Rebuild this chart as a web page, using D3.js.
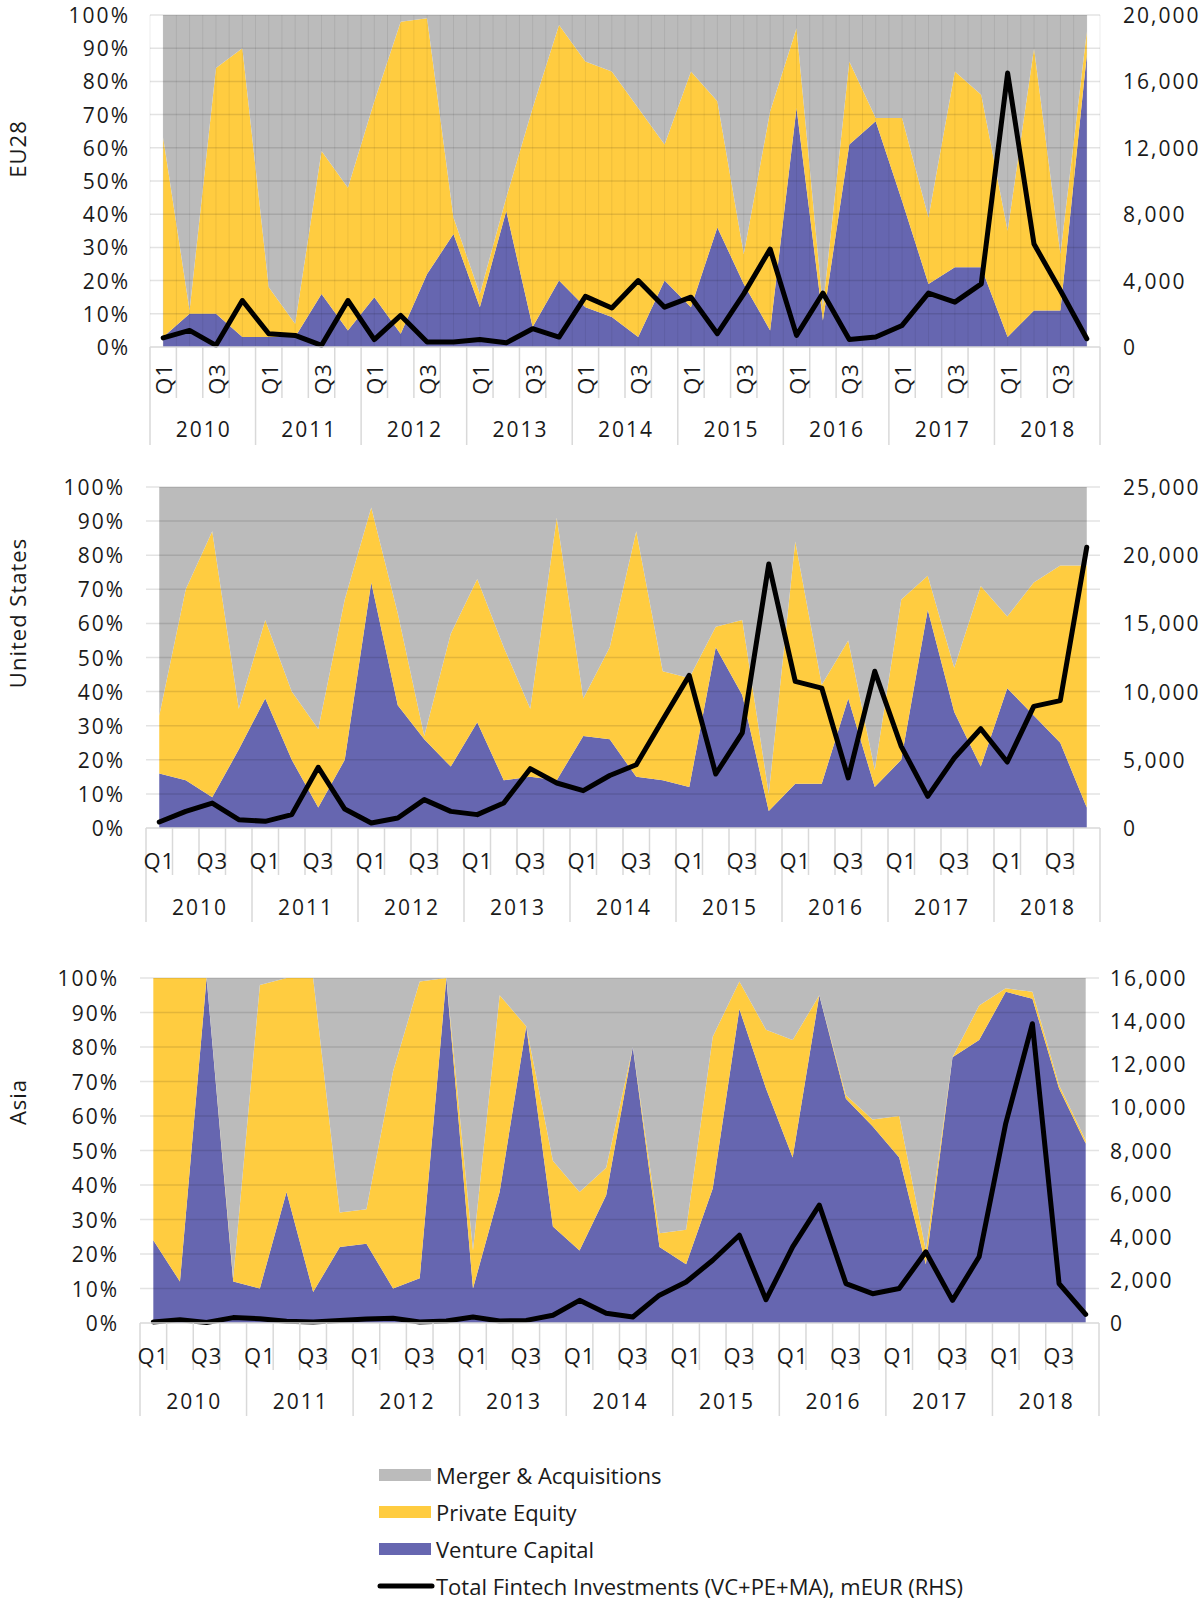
<!DOCTYPE html>
<html>
<head>
<meta charset="utf-8">
<script src="https://cdn.jsdelivr.net/npm/d3@7"></script>
<style>
  body { margin: 0; background: #fff; }
  text { font-family: "Open Sans", sans-serif; fill: #1a1a1a; }
</style>
</head>
<body>
<div id="chart"></div>
<script>
// categories: 9 years x 4 quarters
var years = ["2010", "2011", "2012", "2013", "2014", "2015", "2016", "2017", "2018"];
var quarterNames = ["Q1", "Q2", "Q3", "Q4"];
var pctTicks = [0, 10, 20, 30, 40, 50, 60, 70, 80, 90, 100];

// EU28 shares (%) and total (mEUR)
var eu28VC = [3, 10, 10, 3, 3, 3, 16, 5, 15, 4, 22, 34, 12, 41, 6, 20, 12, 9, 3, 20, 12, 36, 19, 5, 72, 8, 61, 68, 44, 19, 24, 24, 3, 11, 11, 88];
var eu28PE = [60, 1, 74, 87, 15, 4, 43, 43, 59, 94, 77, 5, 4, 4, 66, 77, 74, 74, 69, 41, 71, 38, 9, 66, 24, 4, 25, 1, 25, 20, 59, 52, 32, 79, 17, 7];
var eu28MA = [37, 89, 16, 10, 82, 93, 41, 52, 26, 2, 1, 61, 84, 55, 28, 3, 14, 17, 28, 39, 17, 26, 72, 29, 4, 88, 14, 31, 31, 61, 17, 24, 65, 10, 72, 5];
var eu28Total = [550, 1000, 100, 2800, 800, 700, 100, 2800, 450, 1900, 300, 300, 450, 250, 1100, 600, 3050, 2350, 4000, 2400, 3000, 800, 3200, 5900, 700, 3250, 450, 600, 1300, 3250, 2700, 3800, 16500, 6200, 3400, 500];
var eu28Ticks = [0, 4000, 8000, 12000, 16000, 20000];

// United States
var usVC = [16, 14, 9, 23, 38, 20, 6, 20, 72, 36, 26, 18, 31, 14, 15, 14, 27, 26, 15, 14, 12, 53, 39, 5, 13, 13, 38, 12, 20, 64, 34, 18, 41, 33, 25, 6];
var usPE = [17, 56, 78, 12, 23, 20, 23, 47, 22, 27, 1, 39, 42, 39, 20, 77, 11, 27, 72, 32, 32, 6, 22, 5, 71, 29, 17, 5, 47, 10, 13, 53, 21, 39, 52, 71];
var usMA = [67, 30, 13, 65, 39, 60, 71, 33, 6, 37, 73, 43, 27, 47, 65, 9, 62, 47, 13, 54, 56, 41, 39, 90, 16, 58, 45, 83, 33, 26, 53, 29, 38, 28, 23, 23];
var usTotal = [440, 1220, 1830, 610, 490, 980, 4450, 1390, 370, 730, 2080, 1220, 980, 1830, 4350, 3300, 2740, 3850, 4640, 7940, 11190, 3960, 6970, 19350, 10750, 10260, 3670, 11490, 5990, 2320, 5130, 7280, 4840, 8920, 9340, 20580];
var usTicks = [0, 5000, 10000, 15000, 20000, 25000];

// Asia
var asiaVC = [24, 12, 100, 12, 10, 38, 9, 22, 23, 10, 13, 100, 10, 38, 86, 28, 21, 37, 80, 22, 17, 39, 91, 68, 48, 95, 65, 57, 48, 17, 77, 82, 96, 94, 68, 52];
var asiaPE = [76, 88, 0, 1, 88, 62, 91, 10, 10, 63, 86, 0, 11, 57, 0, 19, 17, 8, 0, 4, 10, 44, 8, 17, 34, 0, 1, 2, 12, 4, 0, 10, 1, 2, 1, 1];
var asiaMA = [0, 0, 0, 87, 2, 0, 0, 68, 67, 27, 1, 0, 79, 5, 14, 53, 62, 55, 20, 74, 73, 17, 1, 15, 18, 5, 34, 41, 40, 79, 23, 8, 3, 4, 31, 47];
var asiaTotal = [50, 150, 20, 250, 200, 80, 50, 120, 190, 220, 50, 90, 280, 90, 120, 360, 1050, 450, 280, 1290, 1900, 2910, 4070, 1080, 3530, 5470, 1830, 1360, 1600, 3300, 1050, 3070, 9260, 13880, 1830, 400];
var asiaTicks = [0, 2000, 4000, 6000, 8000, 10000, 12000, 14000, 16000];

var seriesNames = ["Merger & Acquisitions", "Private Equity", "Venture Capital"];
var lineName = "Total Fintech Investments (VC+PE+MA), mEUR (RHS)";

var colors = { ma: "#bbbbbb", pe: "#ffcc40", vc: "#6666b0" };

// category list built from years and quarters
var categories = [];
years.forEach(function(yr){
    quarterNames.forEach(function(q){ categories.push({ year: yr, q: q }); });
});

var svg = d3.select("#chart").append("svg")
    .attr("width", 1201)
    .attr("height", 1601);

function drawPanel(p){
    var g = svg.append("g");
    var x = d3.scaleBand().domain(d3.range(categories.length)).range([p.left, p.right]);
    var cx = function(i){ return x(i) + x.bandwidth() / 2; };
    var y = d3.scaleLinear().domain([0, 100]).range([p.bottom, p.top]);
    var yR = d3.scaleLinear().domain([0, d3.max(p.ticks)]).range([p.bottom, p.top]);

    // stacked shares
    var rows = categories.map(function(c, i){
        return { i: i, vc: p.vc[i], pe: p.pe[i], ma: p.ma[i] };
    });
    var stacked = d3.stack().keys(["vc", "pe", "ma"])(rows);
    var area = d3.area()
        .x(function(d){ return cx(d.data.i); })
        .y0(function(d){ return y(d[0]); })
        .y1(function(d){ return y(d[1]); });
    g.selectAll("path.area")
        .data(stacked)
        .enter()
        .append("path")
        .attr("class", "area")
        .attr("d", area)
        .attr("fill", function(d){ return colors[d.key]; });

    // vertical gridlines only on the top panel
    if (p.vGrid){
        var vx = [];
        d3.range(categories.length).forEach(function(i){ vx.push(x(i)); vx.push(cx(i)); });
        vx.push(p.right);
        g.selectAll("line.vgrid")
            .data(vx)
            .enter()
            .append("line")
            .attr("x1", function(d){ return d; })
            .attr("x2", function(d){ return d; })
            .attr("y1", p.top)
            .attr("y2", p.bottom)
            .attr("stroke", "rgba(0,0,0,0.07)")
            .attr("stroke-width", 1);
    }

    // horizontal gridlines drawn over the areas
    g.selectAll("line.grid")
        .data(pctTicks.slice(1))
        .enter()
        .append("line")
        .attr("x1", p.left)
        .attr("x2", p.right)
        .attr("y1", function(d){ return y(d); })
        .attr("y2", function(d){ return y(d); })
        .attr("stroke", "rgba(0,0,0,0.11)")
        .attr("stroke-width", 1.5);

    // total line on right axis
    var line = d3.line()
        .x(function(d, i){ return cx(i); })
        .y(function(d){ return yR(d); });
    g.append("path")
        .datum(p.total)
        .attr("d", line)
        .attr("fill", "none")
        .attr("stroke", "#000")
        .attr("stroke-width", 5)
        .attr("stroke-linecap", "round")
        .attr("stroke-linejoin", "round");

    // bottom axis line and ticks
    g.append("line")
        .attr("x1", p.left).attr("x2", p.right)
        .attr("y1", p.bottom).attr("y2", p.bottom)
        .attr("stroke", "#d9d9d9").attr("stroke-width", 1.5);
    var bounds = d3.range(categories.length + 1);
    g.selectAll("line.tick")
        .data(bounds)
        .enter()
        .append("line")
        .attr("x1", function(i){ return i < categories.length ? x(i) : p.right; })
        .attr("x2", function(i){ return i < categories.length ? x(i) : p.right; })
        .attr("y1", p.bottom)
        .attr("y2", function(i){ return i % 4 == 0 ? p.bottom + p.yearDrop : p.bottom + p.qDrop; })
        .attr("stroke", "#d9d9d9")
        .attr("stroke-width", 1.5);

    // Q1 / Q3 labels
    var qIdx = d3.range(categories.length).filter(function(i){ return i % 2 == 0; });
    var qText = g.selectAll("text.q")
        .data(qIdx)
        .enter()
        .append("text")
        .attr("font-size", 22)
        .attr("letter-spacing", 1)
        .attr("text-anchor", "middle")
        .attr("dominant-baseline", "central")
        .text(function(i){ return categories[i].q; });
    if (p.rotateQ){
        qText.attr("transform", function(i){
            return "translate(" + cx(i) + "," + (p.bottom + 32) + ") rotate(-90)";
        });
    } else {
        qText.attr("x", function(i){ return cx(i); }).attr("y", p.bottom + 32);
    }

    // year labels
    g.selectAll("text.year")
        .data(years)
        .enter()
        .append("text")
        .attr("x", function(d, k){ return (x(k * 4) + x(k * 4 + 3) + x.bandwidth()) / 2 + 1; })
        .attr("y", p.bottom + p.yearY)
        .attr("font-size", 21)
        .attr("letter-spacing", 2)
        .attr("text-anchor", "middle")
        .attr("dominant-baseline", "central")
        .text(function(d){ return d; });

    // left percent axis
    g.selectAll("text.left")
        .data(pctTicks)
        .enter()
        .append("text")
        .attr("x", p.leftLabelX + 2)
        .attr("y", function(d){ return y(d); })
        .attr("font-size", 21)
        .attr("letter-spacing", 2)
        .attr("text-anchor", "end")
        .attr("dominant-baseline", "central")
        .text(function(d){ return d + "%"; });

    // right value axis
    g.selectAll("text.right")
        .data(p.ticks)
        .enter()
        .append("text")
        .attr("x", p.rightLabelX)
        .attr("y", function(d){ return yR(d); })
        .attr("font-size", 21)
        .attr("letter-spacing", 2)
        .attr("text-anchor", "start")
        .attr("dominant-baseline", "central")
        .text(function(d){ return d3.format(",")(d); });

    // region title
    g.append("text")
        .attr("transform", "translate(17," + p.titleY + ") rotate(-90)")
        .attr("font-size", 22)
        .attr("letter-spacing", 1)
        .attr("text-anchor", "middle")
        .attr("dominant-baseline", "central")
        .text(p.title);
}

drawPanel({ title: "EU28", titleY: 149, vc: eu28VC, pe: eu28PE, ma: eu28MA, total: eu28Total, ticks: eu28Ticks,
    left: 150, right: 1100, top: 15, bottom: 347, leftLabelX: 128, rightLabelX: 1123,
    rotateQ: true, vGrid: true, qDrop: 51, yearDrop: 98, yearY: 82 });
drawPanel({ title: "United States", titleY: 613, vc: usVC, pe: usPE, ma: usMA, total: usTotal, ticks: usTicks,
    left: 146, right: 1100, top: 487, bottom: 828, leftLabelX: 123, rightLabelX: 1123,
    rotateQ: false, vGrid: false, qDrop: 47, yearDrop: 94, yearY: 79 });
drawPanel({ title: "Asia", titleY: 1102, vc: asiaVC, pe: asiaPE, ma: asiaMA, total: asiaTotal, ticks: asiaTicks,
    left: 140, right: 1099, top: 978, bottom: 1323, leftLabelX: 117, rightLabelX: 1110,
    rotateQ: false, vGrid: false, qDrop: 47, yearDrop: 93, yearY: 78 });

// legend
var legendItems = [
    { name: seriesNames[0], key: "ma" },
    { name: seriesNames[1], key: "pe" },
    { name: seriesNames[2], key: "vc" },
    { name: lineName, key: "line" }
];
var legend = svg.append("g");
legendItems.forEach(function(d, k){
    var ly = 1475 + k * 37;
    if (d.key == "line"){
        legend.append("line")
            .attr("x1", 380).attr("x2", 432)
            .attr("y1", ly).attr("y2", ly)
            .attr("stroke", "#000").attr("stroke-width", 5)
            .attr("stroke-linecap", "round");
    } else {
        legend.append("rect")
            .attr("x", 379).attr("y", ly - 6)
            .attr("width", 52).attr("height", 12)
            .attr("fill", colors[d.key]);
    }
    legend.append("text")
        .attr("x", 436).attr("y", ly)
        .attr("font-size", 22)
        .attr("dominant-baseline", "central")
        .text(d.name);
});
</script>
</body>
</html>
